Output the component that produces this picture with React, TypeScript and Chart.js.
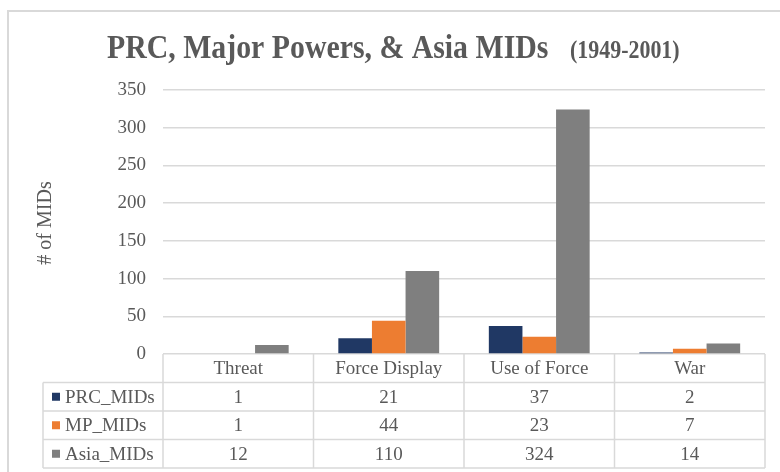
import React, { useEffect, useRef } from 'react';
import { Chart, registerables } from 'chart.js';

Chart.register(...registerables);

const categories = ['Threat', 'Force Display', 'Use of Force', 'War'];
const seriesNames = ['PRC_MIDs', 'MP_MIDs', 'Asia_MIDs'];
const prcMIDs = [1, 21, 37, 2];
const mpMIDs = [1, 44, 23, 7];
const asiaMIDs = [12, 110, 324, 14];
const seriesColors = ['#203864', '#ED7D31', '#7F7F7F'];
const yMax = 350;
const yStep = 50;
const titleMain = 'PRC, Major Powers, & Asia MIDs';
const titleSub = '(1949-2001)';
const yTitle = '# of MIDs';

const FONT = "'Liberation Serif', 'Times New Roman', serif";
const TEXT = '#595959';
const LINE = '#d9d9d9';

const decor = {
  id: 'decor',
  afterDraw(chart: any) {
    const ctx = chart.ctx as CanvasRenderingContext2D;
    const xs = chart.scales.x;
    const area = chart.chartArea;
    ctx.save();

    // outer chart border
    ctx.strokeStyle = LINE;
    ctx.lineWidth = 2;
    ctx.beginPath();
    ctx.moveTo(8, chart.height);
    ctx.lineTo(8, 11);
    ctx.lineTo(chart.width, 11);
    ctx.stroke();

    // title
    ctx.fillStyle = TEXT;
    ctx.textBaseline = 'alphabetic';
    ctx.textAlign = 'left';
    const sx = 0.877;
    ctx.save();
    ctx.translate(107, 58);
    ctx.scale(sx, 1);
    ctx.font = `bold 34px ${FONT}`;
    ctx.fillText(titleMain, 0, 0);
    ctx.restore();
    ctx.save();
    ctx.translate(570, 58);
    ctx.scale(sx, 1);
    ctx.font = `bold 25px ${FONT}`;
    ctx.fillText(titleSub, 0, 0);
    ctx.restore();

    // y axis title
    ctx.save();
    ctx.translate(46, 223);
    ctx.rotate(-Math.PI / 2);
    ctx.font = `20px ${FONT}`;
    ctx.textAlign = 'center';
    ctx.textBaseline = 'middle';
    ctx.fillText(yTitle, 0, 0);
    ctx.restore();

    // data table
    const n = categories.length;
    const colW = (xs.right - xs.left) / n;
    const rowH = 28.5;
    const top = area.bottom;
    const rowsTop = top + rowH;
    const ds = chart.data.datasets;
    const bottom = rowsTop + rowH * ds.length;
    const legendLeft = 43;

    ctx.strokeStyle = LINE;
    ctx.lineWidth = 1.5;
    ctx.beginPath();
    for (let i = 0; i <= n; i++) {
      const x = xs.left + i * colW;
      ctx.moveTo(x, top);
      ctx.lineTo(x, bottom);
    }
    ctx.moveTo(legendLeft, rowsTop);
    ctx.lineTo(legendLeft, bottom);
    for (let r = 0; r <= ds.length; r++) {
      const y = rowsTop + r * rowH;
      ctx.moveTo(legendLeft, y);
      ctx.lineTo(xs.right, y);
    }
    ctx.stroke();

    ctx.font = `19px ${FONT}`;
    ctx.textBaseline = 'middle';
    ds.forEach((d: any, r: number) => {
      const cy = rowsTop + r * rowH + rowH / 2 + 1;
      ctx.fillStyle = d.backgroundColor;
      ctx.fillRect(52, cy - 5, 8, 8);
      ctx.fillStyle = TEXT;
      ctx.textAlign = 'left';
      ctx.fillText(d.label, 65, cy);
      ctx.textAlign = 'center';
      d.data.forEach((v: number, i: number) => {
        ctx.fillText(String(v), xs.getPixelForTick(i), cy);
      });
    });

    ctx.restore();
  },
};

export default function App() {
  const ref = useRef<HTMLCanvasElement | null>(null);

  useEffect(() => {
    if (!ref.current) return;
    const values = [prcMIDs, mpMIDs, asiaMIDs];
    const chart = new Chart(ref.current, {
      type: 'bar',
      data: {
        labels: categories,
        datasets: seriesNames.map((name, i) => ({
          label: name,
          data: values[i],
          backgroundColor: seriesColors[i],
          borderWidth: 0,
          barPercentage: 1,
          categoryPercentage: 0.67,
        })),
      },
      options: {
        animation: false,
        responsive: false,
        devicePixelRatio: 1,
        layout: { padding: { top: 90, right: 15, bottom: 0, left: 0 } },
        plugins: {
          legend: { display: false },
          tooltip: { enabled: false },
          title: { display: false },
        },
        scales: {
          x: {
            type: 'category',
            grid: { display: false, drawTicks: false },
            border: { display: false },
            ticks: {
              color: TEXT,
              font: { family: FONT, size: 19 },
              padding: 4,
              maxRotation: 0,
              autoSkip: false,
            },
            afterFit: (s: any) => {
              s.height = 118;
            },
          },
          y: {
            min: 0,
            max: yMax,
            grid: { color: LINE, lineWidth: 1.5, drawTicks: false },
            border: { display: false },
            ticks: {
              stepSize: yStep,
              color: TEXT,
              font: { family: FONT, size: 19 },
              padding: 17,
            },
            afterFit: (s: any) => {
              s.width = 163;
            },
          },
        },
      },
      plugins: [decor],
    });
    return () => chart.destroy();
  }, []);

  return (
    <div style={{ position: 'absolute', left: 0, top: 0, width: 780, height: 472, background: '#fff' }}>
      <canvas ref={ref} width={780} height={472} style={{ display: 'block' }} />
    </div>
  );
}
